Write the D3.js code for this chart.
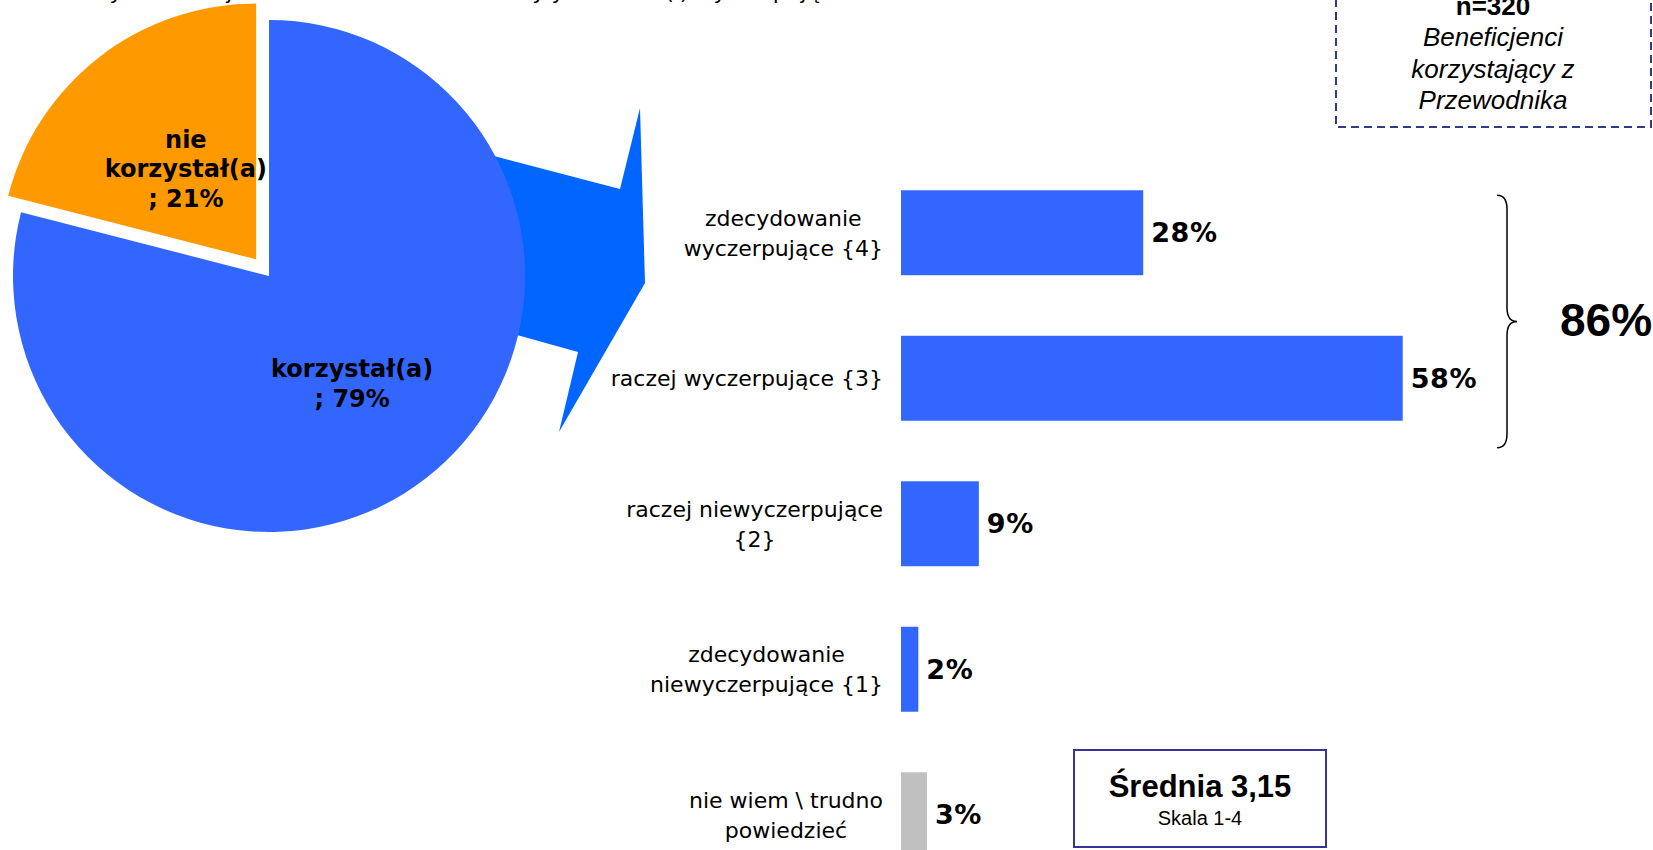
<!DOCTYPE html>
<html>
<head>
<meta charset="utf-8">
<script src="https://cdn.jsdelivr.net/npm/d3@7"></script>
<style>
  html, body { margin: 0; padding: 0; background: #fff; overflow: hidden; }
  svg { display: block; }
</style>
</head>
<body>
<div id="chart"></div>
<script>
// pie: who used the guide
const pieNames  = ["korzystał(a)", "nie korzystał(a)"];
const pieValues = [79, 21];
const pieColors = ["#3366FF", "#FF9900"];

// bars: how exhaustive was it
const categories = [
  ["zdecydowanie", "wyczerpujące {4}"],
  ["raczej wyczerpujące {3}"],
  ["raczej niewyczerpujące", "{2}"],
  ["zdecydowanie", "niewyczerpujące {1}"],
  ["nie wiem \\ trudno", "powiedzieć"]
];
const values    = [28, 58, 9, 2, 3];
const barColors = ["#3366FF", "#3366FF", "#3366FF", "#3366FF", "#C0C0C0"];

const topTwo     = "86%";
const meanLabel  = "Średnia 3,15";
const scaleLabel = "Skala 1-4";
const noteLines  = ["Beneficjenci", "korzystający z", "Przewodnika"];
const sampleSize = "n=320";
const title      = "Czy informacje zawarte w Przewodniku były dla Pana(i) wyczerpujące?";

const width = 1653, height = 850;
const verdana = "'DejaVu Sans', Verdana, sans-serif";
const arial   = "'Liberation Sans', Arial, sans-serif";

const svg = d3.select("#chart").append("svg")
  .attr("width", width)
  .attr("height", height);

// title, cut off at the top edge like in the source
svg.append("text")
  .attr("x", 470).attr("y", -1)
  .attr("text-anchor", "middle")
  .style("font-family", verdana)
  .style("font-size", "22px")
  .text(title);

// 1. big arrow behind the pie
const arrowShape = [[494,156],[620,189],[640,108],[645,283],[559,432],[578,352],[517,335]];
svg.append("path")
  .attr("d", d3.line()(arrowShape) + "Z")
  .attr("fill", "#0066FF");

// 2. pie
const cx = 269, cy = 276, R = 256, explode = 21;
const pie = d3.pie().sort(null).value(d => d)(pieValues);
const arc = d3.arc().innerRadius(0).outerRadius(R);
const labelArc = d3.arc().innerRadius(R * 0.53).outerRadius(R * 0.53);

const pieG = svg.append("g")
  .attr("transform", `translate(${cx},${cy})`);

pieG.selectAll("path")
  .data(pie)
  .join("path")
  .attr("d", arc)
  .attr("fill", (d, i) => pieColors[i])
  .attr("transform", (d, i) => {
    if (i === 0) return null;
    const a = (d.startAngle + d.endAngle) / 2;
    return `translate(${explode * Math.sin(a)},${-explode * Math.cos(a)})`;
  });

pie.forEach((d, i) => {
  const lines = pieNames[i].split(" ").concat(["; " + pieValues[i] + "%"]);
  const [lx, ly] = labelArc.centroid(d);
  const lh = 29.5;
  const t = pieG.append("text")
    .attr("text-anchor", "middle")
    .style("font-family", verdana)
    .style("font-weight", "bold")
    .style("font-size", "24px")
    .attr("fill", "#000");
  lines.forEach((l, j) => {
    t.append("tspan")
      .attr("x", lx)
      .attr("y", ly + (j - (lines.length - 1) / 2) * lh)
      .attr("dy", "0.36em")
      .text(l);
  });
});

// 3. bars
const x = d3.scaleLinear().domain([0, 100]).range([901, 1766]);
const y = d3.scaleBand()
  .domain(d3.range(values.length))
  .range([160, 887.5])
  .paddingInner(0.416)
  .paddingOuter(0.208);

svg.selectAll("rect.bar")
  .data(values)
  .join("rect")
  .attr("class", "bar")
  .attr("x", x(0))
  .attr("y", (d, i) => y(i))
  .attr("width", d => x(d) - x(0))
  .attr("height", y.bandwidth())
  .attr("fill", (d, i) => barColors[i]);

svg.selectAll("text.value")
  .data(values)
  .join("text")
  .attr("class", "value")
  .attr("x", d => x(d) + 8)
  .attr("y", (d, i) => y(i) + y.bandwidth() / 2)
  .attr("dy", "0.36em")
  .style("font-family", verdana)
  .style("font-weight", "bold")
  .style("font-size", "27px")
  .style("letter-spacing", "0.6px")
  .text(d => d + "%");

// category labels: block right-aligned, lines centred inside it
const labelRight = 883, catLh = 30;
categories.forEach((lines, i) => {
  const g = svg.append("text")
    .style("font-family", verdana)
    .style("font-size", "22px")
    .attr("text-anchor", "middle")
    .attr("fill", "#000");
  const spans = lines.map((l, j) => g.append("tspan")
    .attr("y", y(i) + y.bandwidth() / 2 + (j - (lines.length - 1) / 2) * catLh)
    .attr("dy", "0.36em")
    .text(l));
  const w = d3.max(spans, s => s.node().getComputedTextLength());
  spans.forEach(s => s.attr("x", labelRight - w / 2));
});

// 4. brace over the two top answers
const bTop = y(0) + 5, bBot = y(1) + y.bandwidth() + 27, bMid = (bTop + bBot) / 2;
const x0 = 1497, x1 = 1507, x2 = 1517;
svg.append("path")
  .attr("d", `M${x0},${bTop} Q${x1},${bTop} ${x1},${bTop + 14} L${x1},${bMid - 14} Q${x1},${bMid} ${x2},${bMid} Q${x1},${bMid} ${x1},${bMid + 14} L${x1},${bBot - 14} Q${x1},${bBot} ${x0},${bBot}`)
  .attr("fill", "none")
  .attr("stroke", "#000")
  .attr("stroke-width", 1.5);

svg.append("text")
  .attr("x", 1560).attr("y", bMid - 2)
  .attr("dy", "0.36em")
  .style("font-family", arial)
  .style("font-weight", "bold")
  .style("font-size", "46px")
  .text(topTwo);

// 5. sample note box (top cut off)
svg.append("rect")
  .attr("x", 1336).attr("y", -20)
  .attr("width", 315).attr("height", 147)
  .attr("fill", "none")
  .attr("stroke", "#2E3A8C")
  .attr("stroke-width", 2)
  .attr("stroke-dasharray", "8,5");

svg.append("text")
  .attr("x", 1493).attr("y", 15)
  .attr("text-anchor", "middle")
  .style("font-family", arial)
  .style("font-weight", "bold")
  .style("font-size", "26px")
  .text(sampleSize);

svg.selectAll("text.note")
  .data(noteLines)
  .join("text")
  .attr("class", "note")
  .attr("x", 1493)
  .attr("y", (d, i) => 46 + i * 31.5)
  .attr("text-anchor", "middle")
  .style("font-family", arial)
  .style("font-style", "italic")
  .style("font-size", "26px")
  .text(d => d);

// 6. mean box
svg.append("rect")
  .attr("x", 1074).attr("y", 750)
  .attr("width", 252).attr("height", 97)
  .attr("fill", "#fff")
  .attr("stroke", "#333399")
  .attr("stroke-width", 2);

svg.append("text")
  .attr("x", 1200).attr("y", 797)
  .attr("text-anchor", "middle")
  .style("font-family", arial)
  .style("font-weight", "bold")
  .style("font-size", "31px")
  .text(meanLabel);

svg.append("text")
  .attr("x", 1200).attr("y", 825)
  .attr("text-anchor", "middle")
  .style("font-family", arial)
  .style("font-size", "20px")
  .text(scaleLabel);
</script>
</body>
</html>
